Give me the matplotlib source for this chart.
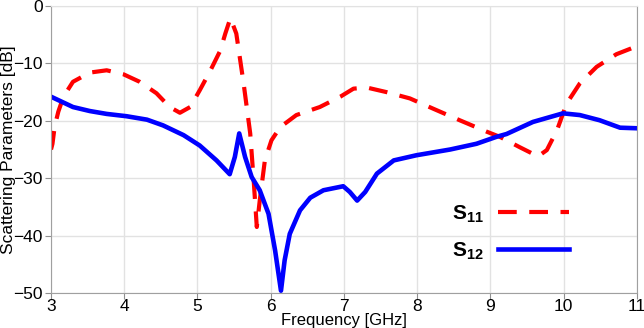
import matplotlib
matplotlib.use("Agg")
import matplotlib.pyplot as plt

plt.rcParams['font.family'] = ['Liberation Sans', 'DejaVu Sans']
plt.rcParams['mathtext.fontset'] = 'custom'
plt.rcParams['mathtext.rm'] = 'Liberation Sans'
plt.rcParams['mathtext.bf'] = 'Liberation Sans:bold'

# S11 (red dashed)
f_s11 = [3.0, 3.02, 3.05, 3.10, 3.17, 3.30, 3.53, 3.76, 3.99, 4.21, 4.44, 4.62,
         4.76, 4.90, 5.03, 5.17, 5.31, 5.38, 5.45, 5.53, 5.63, 5.72, 5.77, 5.81,
         5.85, 5.92, 6.01, 6.13, 6.35, 6.67, 6.95, 7.13, 7.31, 7.58, 7.90, 8.22,
         8.58, 8.95, 9.13, 9.40, 9.65, 9.77, 9.91, 10.04, 10.22, 10.45, 10.72, 11.0]
s11 = [-25, -24, -21, -18.4, -15.8, -13.2, -11.6, -11.2, -11.9, -13.2, -15.2, -17.6,
       -18.6, -17.6, -14.7, -11.4, -7.8, -4.8, -2.1, -4.8, -13.5, -22.2, -30.9, -38.5,
       -33.9, -26.9, -23.4, -21.1, -19.0, -17.6, -15.8, -14.4, -14.2, -15.0, -16.1, -17.9,
       -19.9, -21.9, -22.8, -24.6, -26.2, -25.1, -21.6, -17.0, -13.5, -10.6, -8.4, -7.0]

# S12 (blue solid)
f_s12 = [3.0, 3.30, 3.53, 3.76, 4.03, 4.31, 4.53, 4.81, 5.03, 5.26, 5.44, 5.51,
         5.57, 5.65, 5.74, 5.85, 5.97, 6.06, 6.14, 6.19, 6.26, 6.40, 6.54, 6.72,
         6.99, 7.08, 7.18, 7.29, 7.45, 7.68, 7.99, 8.45, 8.81, 9.08, 9.22, 9.58,
         9.99, 10.22, 10.49, 10.77, 11.0]
s12 = [-15.8, -17.6, -18.3, -18.8, -19.2, -19.8, -20.8, -22.5, -24.3, -26.9, -29.3, -26.3,
       -22.2, -26.3, -29.8, -32.1, -36.2, -42.6, -49.6, -44.3, -39.7, -35.6, -33.4, -32.1,
       -31.4, -32.4, -33.9, -32.4, -29.2, -26.9, -26.0, -25.0, -24.0, -22.8, -22.3, -20.2,
       -18.7, -19.0, -19.9, -21.2, -21.3]

xticks = [3, 4, 5, 6, 7, 8, 9, 10, 11]
yticks = [0, -10, -20, -30, -40, -50]

fig = plt.figure(figsize=(6.44, 3.28), dpi=100)
ax = fig.add_axes([0.0792, 0.1067, 0.9098, 0.875])

ax.plot(f_s11, s11, color='#ff0000', lw=3.0, dashes=(4.5, 3.0),
        dash_joinstyle='round', label=r'$\mathbf{S_{11}}$')
ax.plot(f_s12, s12, color='#0000ff', lw=3.3, solid_joinstyle='round',
        label=r'$\mathbf{S_{12}}$')

ax.set_xlim(3, 11)
ax.set_ylim(-50, 0)
ax.set_xticks(xticks)
ax.set_yticks(yticks)
ax.grid(True, color='#e2e2e2', lw=1)
ax.set_axisbelow(True)
ax.tick_params(length=4, color='#909090', labelsize=12.5, pad=2)
ax.tick_params(axis='x', pad=0.5)
for s in ['left', 'bottom', 'right']:
    ax.spines[s].set_color('#a0a0a0')
ax.spines['top'].set_color('#e2e2e2')

ax.set_xlabel('Frequency [GHz]', fontsize=12, va='bottom')
ax.xaxis.set_label_coords(0.5, -0.121)
ax.set_ylabel('Scattering Parameters [dB]', fontsize=12.5, labelpad=-2)

ax.legend(loc='center left', bbox_to_anchor=(0.684, 0.21), frameon=False,
          markerfirst=False, handlelength=3.4, fontsize=15, labelspacing=0.75,
          handletextpad=0.7, borderpad=0, borderaxespad=0)

fig.savefig('out.png', dpi=100)
